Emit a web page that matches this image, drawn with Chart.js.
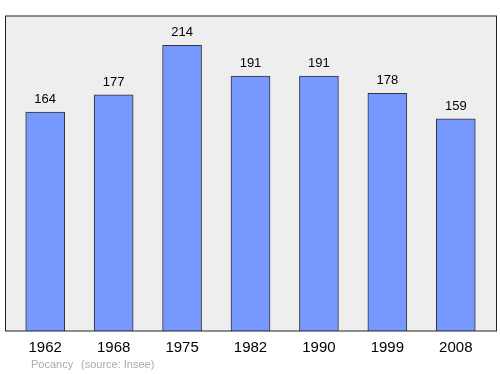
<!DOCTYPE html>
<html lang="fr">
<head>
  <meta charset="UTF-8">
  <title>Population Pocancy</title>
  <script src="https://cdn.jsdelivr.net/npm/chart.js"></script>
  <style>
    body { margin: 0; background: #fff; }
    canvas { display: block; }
  </style>
</head>
<body>
<canvas id="popChart" width="500" height="374"></canvas>
<script>
  // données
  const years = ['1962', '1968', '1975', '1982', '1990', '1999', '2008'];
  const population = [164, 177, 214, 191, 191, 178, 159];
  const footerName = 'Pocancy';
  const footerSource = '(source: Insee)';

  // fond gris + cadre, étiquettes de valeur, pied de page
  const decor = {
    id: 'decor',
    beforeDatasetsDraw(chart) {
      const { ctx, chartArea: a } = chart;
      ctx.save();
      ctx.fillStyle = '#eeeeee';
      ctx.fillRect(a.left - 5.5, a.top, a.right - a.left + 12, a.bottom - a.top);
      ctx.restore();
    },
    afterDatasetsDraw(chart) {
      const { ctx, chartArea: a } = chart;
      ctx.save();
      ctx.strokeStyle = '#222';
      ctx.lineWidth = 1;
      ctx.strokeRect(a.left - 5.5, a.top, a.right - a.left + 12, a.bottom - a.top);

      // valeurs au-dessus des barres
      ctx.fillStyle = '#000';
      ctx.font = '13px "Liberation Sans", Arial, sans-serif';
      ctx.textAlign = 'center';
      ctx.textBaseline = 'alphabetic';
      chart.getDatasetMeta(0).data.forEach((bar, i) => {
        ctx.fillText(population[i], bar.x, bar.y - 9);
      });

      // pied de page
      ctx.fillStyle = '#aaaaaa';
      ctx.font = '11px "Liberation Sans", Arial, sans-serif';
      ctx.textAlign = 'left';
      ctx.fillText(footerName, 31, 368);
      ctx.fillText(footerSource, 81, 368);
      ctx.restore();
    }
  };

  const ctx = document.getElementById('popChart').getContext('2d');
  new Chart(ctx, {
    type: 'bar',
    data: {
      labels: years,
      datasets: [{
        data: population,
        backgroundColor: '#7799ff',
        borderColor: '#333',
        borderWidth: 1,
        barThickness: 39,
      }],
    },
    options: {
      responsive: false,
      animation: false,
      layout: { padding: { top: 16, left: 11, right: 10, bottom: 17 } },
      plugins: {
        legend: { display: false },
        tooltip: { enabled: false },
      },
      scales: {
        x: {
          offset: true,
          grid: { display: false },
          border: { display: false },
          ticks: {
            color: '#000',
            font: { size: 15, family: '"Liberation Sans", Arial, sans-serif' },
            padding: 0,
            maxRotation: 0,
          },
        },
        y: {
          display: false,
          min: 0,
          max: 236,
        },
      },
    },
    plugins: [decor],
  });
</script>
</body>
</html>
